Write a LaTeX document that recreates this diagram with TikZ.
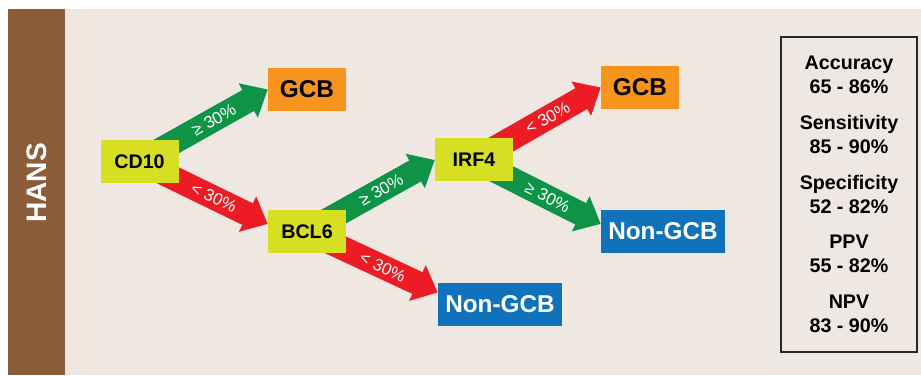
\documentclass[tikz,border=0pt]{standalone}
\usepackage{fontspec}
\setsansfont{Liberation Sans}
\usetikzlibrary{arrows.meta,backgrounds}

\definecolor{panelbg}{HTML}{EEE7E2}
\definecolor{hansbrown}{HTML}{8B5D3B}
\definecolor{markerlime}{HTML}{D7DF23}
\definecolor{gcborange}{HTML}{F7941D}
\definecolor{ngcbblue}{HTML}{1072BA}
\definecolor{posgreen}{HTML}{0F9447}
\definecolor{negred}{HTML}{ED1C24}

\begin{document}
\begin{tikzpicture}[
    font=\sffamily,
    box/.style={rectangle, inner sep=0pt, text centered, minimum height=1.075cm},
    marker/.style={box, fill=markerlime, minimum width=1.95cm, font=\sffamily\bfseries\fontsize{14}{16}\selectfont},
    gcb/.style={box, fill=gcborange, minimum width=1.95cm, font=\sffamily\bfseries\fontsize{17.3}{20}\selectfont},
    nongcb/.style={box, fill=ngcbblue, text=white, minimum width=3.1cm, font=\sffamily\bfseries\fontsize{17.3}{20}\selectfont},
    cutoff/.style={line width=0.6cm, -{Triangle[length=0.56cm, width=0.95cm]}},
    highexpr/.style={cutoff, draw=posgreen},
    lowexpr/.style={cutoff, draw=negred},
    pct/.style={sloped, pos=0.58, text=white, font=\sffamily\fontsize{12}{14}\selectfont},
    statbox/.style={rectangle, draw=black!85, line width=0.8pt, align=center, minimum width=3.4cm, minimum height=7.875cm, font=\sffamily\bfseries\fontsize{14}{17}\selectfont}
]
    \useasboundingbox (0,0) rectangle (23.025,9.375);

    % 1. Panel and side bar
    \begin{scope}[on background layer]
        \fill[white] (0,0) rectangle (23.025,9.375);
        \fill[panelbg] (0.2,0) rectangle (23.025,9.15);
        \fill[hansbrown] (0.2,0) rectangle (1.625,9.15);
    \end{scope}
    \node[rotate=90, text=white, font=\sffamily\bfseries\fontsize{20}{24}\selectfont] (hans) at (0.9125,4.8) {HANS};

    % 2. Markers
    \node[marker] (cd10) at (3.4875,5.3375) {CD10};
    \node[marker] (bcl6) at (7.675,3.5875) {BCL6};
    \node[marker] (irf4) at (11.85,5.375) {IRF4};

    % 3. Outcomes
    \node[gcb] (gcbA) at (7.675,7.1375) {GCB};
    \node[gcb] (gcbB) at (16.0,7.1875) {GCB};
    \node[nongcb] (ngcbA) at (16.575,3.5875) {Non-GCB};
    \node[nongcb] (ngcbB) at (12.5,1.7625) {Non-GCB};

    % 4. Cut-off arrows (behind the boxes)
    \begin{scope}[on background layer]
        \draw[highexpr] (cd10.center) -- (gcbA.west) node[pct] {≥ 30\%};
        \draw[lowexpr] (cd10.center) -- ([yshift=0.19cm]bcl6.west) node[pct] {< 30\%};
        \draw[highexpr] (bcl6.center) -- (irf4.west) node[pct] {≥ 30\%};
        \draw[lowexpr] (bcl6.center) -- ([yshift=0.3cm]ngcbB.west) node[pct] {< 30\%};
        \draw[lowexpr] (irf4.center) -- (gcbB.west) node[pct] {< 30\%};
        \draw[highexpr] (irf4.center) -- ([yshift=0.19cm]ngcbA.west) node[pct] {≥ 30\%};
    \end{scope}

    % 5. Performance figures
    \node[statbox] (stats) at (21.225,4.5125) {Accuracy\\65 - 86\%\\[8.5pt]
        Sensitivity\\85 - 90\%\\[8.5pt]
        Specificity\\52 - 82\%\\[8.5pt]
        PPV\\55 - 82\%\\[8.5pt]
        NPV\\83 - 90\%};
\end{tikzpicture}
\end{document}
